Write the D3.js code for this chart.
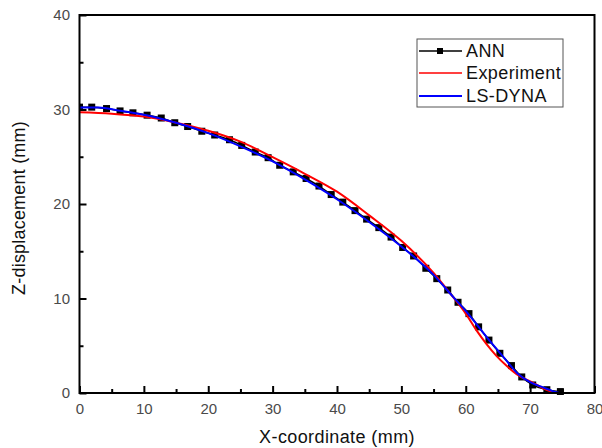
<!DOCTYPE html>
<html>
<head>
<meta charset="utf-8">
<script src="https://cdn.jsdelivr.net/npm/d3@7"></script>
<style>
  html, body { margin: 0; padding: 0; background: #fff; }
  svg { display: block; font-family: Arial, "Liberation Sans", sans-serif; }
</style>
</head>
<body>
<svg id="chart" width="602" height="448"></svg>
<script>
// ANN prediction (marker series)
const annX = [0.0, 1.9, 4.2, 6.3, 8.3, 10.5, 12.7, 14.8, 16.8, 19.0, 21.0, 23.3, 25.2, 27.3, 29.3,
  31.1, 33.2, 35.2, 37.2, 39.1, 40.9, 42.8, 44.6, 46.5, 48.4, 50.2, 51.9, 53.8, 55.5, 57.2,
  58.8, 60.5, 62.0, 63.6, 65.3, 67.1, 68.7, 70.4, 72.6, 74.7];
const annZ = [30.25, 30.25, 30.1, 29.85, 29.65, 29.4, 29.1, 28.6, 28.2, 27.7, 27.3, 26.8, 26.2, 25.5, 24.9,
  24.1, 23.4, 22.7, 21.9, 21.0, 20.2, 19.3, 18.4, 17.5, 16.5, 15.4, 14.5, 13.2, 12.1, 10.9,
  9.6, 8.4, 7.0, 5.6, 4.2, 2.9, 1.7, 0.85, 0.35, 0.15];

// Measured profile
const expX = [0, 5, 10, 15, 20, 25, 30, 35, 40, 45, 50, 55, 57.5, 60, 61.7, 63.2, 64.8, 66.3, 67.9, 70.4, 72.0, 73.5];
const expZ = [29.7, 29.55, 29.25, 28.6, 27.75, 26.6, 24.95, 23.2, 21.3, 18.8, 16.1, 12.7, 10.6, 8.4, 6.6, 5.2, 3.9, 2.9, 2.0, 1.1, 0.5, 0.1];

// Finite element result
const dynaX = [0, 3, 6, 10, 15, 20, 25, 30, 35, 40, 45, 50, 55, 58, 60, 62, 64, 66, 68, 70, 72, 73.5, 74.5];
const dynaZ = [30.2, 30.2, 29.9, 29.45, 28.6, 27.5, 26.1, 24.5, 22.6, 20.5, 18.1, 15.5, 12.5, 10.2, 8.7, 7.0, 5.3, 3.7, 2.1, 1.15, 0.6, 0.2, 0];

const xTicks = [0, 10, 20, 30, 40, 50, 60, 70, 80];
const xMinor = [5, 15, 25, 35, 45, 55, 65, 75];
const yTicks = [0, 10, 20, 30, 40];
const yMinor = [5, 15, 25, 35];

const seriesNames = ["ANN", "Experiment", "LS-DYNA"];
const seriesColors = ["#000000", "#ff0000", "#0000ff"];

const svg = d3.select("#chart");
const L = 79.5, R = 594.5, T = 15, B = 393;
const x = d3.scaleLinear().domain([0, 80]).range([L, R]);
const y = d3.scaleLinear().domain([0, 40]).range([B, T]);

svg.append("rect").attr("width", 602).attr("height", 448).attr("fill", "#fff");

// axes with inward ticks
const gx = svg.append("g").attr("transform", `translate(0,${B})`)
  .call(d3.axisBottom(x).tickValues(xTicks).tickSizeInner(-7).tickSizeOuter(0).tickPadding(10));
const gxm = svg.append("g").attr("transform", `translate(0,${B})`)
  .call(d3.axisBottom(x).tickValues(xMinor).tickSizeInner(-4).tickSizeOuter(0).tickFormat(""));
const gy = svg.append("g").attr("transform", `translate(${L},0)`)
  .call(d3.axisLeft(y).tickValues(yTicks).tickSizeInner(-7).tickSizeOuter(0).tickPadding(9.5));
const gym = svg.append("g").attr("transform", `translate(${L},0)`)
  .call(d3.axisLeft(y).tickValues(yMinor).tickSizeInner(-4).tickSizeOuter(0).tickFormat(""));

[gx, gxm, gy, gym].forEach(g => {
  g.select(".domain").remove();
  g.selectAll(".tick line").attr("stroke", "#000").attr("stroke-width", 2);
  g.selectAll(".tick text").attr("fill", "#4a4a4a").attr("font-size", 15).attr("font-family", "Arial, 'Liberation Sans', sans-serif");
});

svg.append("clipPath").attr("id", "plotclip")
  .append("rect").attr("x", L).attr("y", T).attr("width", R - L).attr("height", B - T + 2);

const plot = svg.append("g").attr("clip-path", "url(#plotclip)");
const line = d3.line().x(d => x(d[0])).y(d => y(d[1])).curve(d3.curveMonotoneX);

const ann = annX.map((v, i) => [v, annZ[i]]);
const exp = expX.map((v, i) => [v, expZ[i]]);
const dyna = dynaX.map((v, i) => [v, dynaZ[i]]);

plot.append("path").datum(ann).attr("d", line).attr("fill", "none")
  .attr("stroke", seriesColors[0]).attr("stroke-width", 1.5);
plot.selectAll("rect.ann").data(ann).join("rect").attr("class", "ann")
  .attr("x", d => x(d[0]) - 3.5).attr("y", d => y(d[1]) - 3.5)
  .attr("width", 7).attr("height", 7).attr("fill", "#000");
plot.append("path").datum(exp).attr("d", line).attr("fill", "none")
  .attr("stroke", seriesColors[1]).attr("stroke-width", 2);
plot.append("path").datum(dyna).attr("d", line).attr("fill", "none")
  .attr("stroke", seriesColors[2]).attr("stroke-width", 2);

// frame
svg.append("rect").attr("x", L).attr("y", T).attr("width", R - L).attr("height", B - T)
  .attr("fill", "none").attr("stroke", "#000").attr("stroke-width", 2);

// axis titles
svg.append("text").attr("x", 337).attr("y", 443).attr("text-anchor", "middle")
  .attr("font-size", 18).attr("letter-spacing", 0.4).attr("fill", "#111").text("X-coordinate (mm)");
svg.append("text").attr("transform", `translate(25,208) rotate(-90)`)
  .attr("text-anchor", "middle").attr("font-size", 18).attr("letter-spacing", 0.2)
  .attr("fill", "#111").text("Z-displacement (mm)");

// legend
const lg = svg.append("g");
lg.append("rect").attr("x", 417).attr("y", 39).attr("width", 146).attr("height", 68)
  .attr("fill", "#fff").attr("stroke", "#555").attr("stroke-width", 1);
const rowY = [51, 73, 96];
seriesNames.forEach((name, i) => {
  lg.append("line").attr("x1", 419).attr("x2", 462).attr("y1", rowY[i]).attr("y2", rowY[i])
    .attr("stroke", seriesColors[i]).attr("stroke-width", i === 2 ? 2 : 1.5);
  if (i === 0) {
    lg.append("rect").attr("x", 437).attr("y", rowY[i] - 3).attr("width", 6).attr("height", 6).attr("fill", "#000");
  }
  lg.append("text").attr("x", 466).attr("y", rowY[i]).attr("dy", "0.35em")
    .attr("font-size", 18).attr("letter-spacing", 0.4).attr("fill", "#111").text(name);
});
</script>
</body>
</html>
